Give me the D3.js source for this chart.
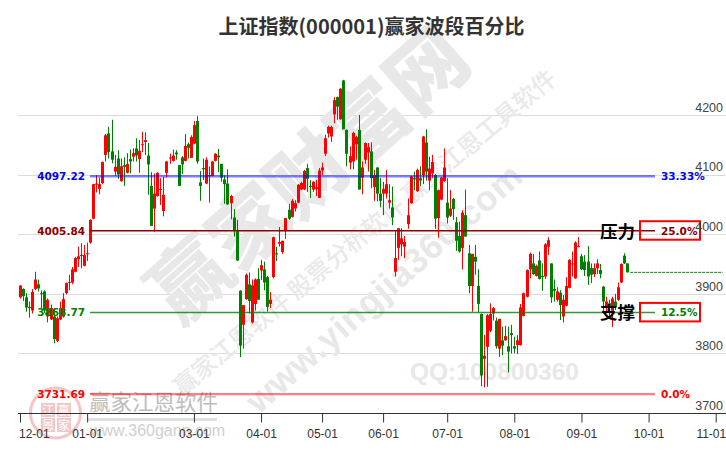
<!DOCTYPE html>
<html><head><meta charset="utf-8">
<script src="https://cdn.jsdelivr.net/npm/d3@7/dist/d3.min.js"></script>
<style>html,body{margin:0;padding:0;background:#fff}svg{display:block}</style>
</head><body><svg id="c" width="726" height="450"></svg>
<script>
const title = "上证指数(000001)赢家波段百分比";
const opens = [3894,3908,3894,3878,3872,3908,3916,3901,3904,3862,3857,3862,3821,3857,3862,3901,3919,3919,3937,3958,3964,3947,3967,3986,4026,4083,4076,4086,4133,4169,4139,4105,4127,4089,4116,4103,4126,4130,4144,4126,4150,4155,4132,4081,4043,4064,4075,4039,4103,4127,4123,4137,4116,4129,4123,4151,4128,4152,4190,4087,4111,4085,4099,4098,4123,4132,4118,4092,4085,4052,4028,4005,3905,3848,3891,3916,3852,3883,3925,3939,3941,3928,3883,3928,3968,3984,3970,4007,4041,4029,4043,4053,4075,4075,4111,4081,4075,4076,4061,4107,4135,4169,4164,4201,4230,4193,4258,4175,4120,4122,4151,4175,4095,4125,4137,4139,4079,4112,4068,4068,4068,4053,4045,3937,3977,3983,3979,4017,4052,4094,4072,4094,4099,4154,4090,4102,4099,4027,4058,4089,4053,4031,4059,4020,3997,3977,4032,3968,3913,3962,3913,3866,3791,3811,3838,3867,3855,3808,3822,3822,3812,3834,3812,3814,3814,3863,3895,3941,3951,3930,3956,3930,3929,3979,3951,3908,3890,3902,3862,3880,3910,3950,3926,3979,3963,3954,3954,3943,3933,3943,3940,3912,3878,3884,3867,3887,3890,3919,3964,3951];
const highs = [3914,3909,3901,3887,3908,3937,3924,3906,3906,3892,3882,3876,3862,3887,3901,3919,3932,3945,3962,3979,3985,3982,3986,4025,4084,4099,4095,4122,4168,4180,4192,4133,4141,4127,4129,4136,4142,4144,4161,4158,4172,4171,4153,4104,4102,4104,4094,4096,4123,4135,4142,4141,4116,4131,4168,4154,4166,4190,4198,4106,4127,4129,4114,4123,4136,4143,4118,4099,4109,4066,4042,4024,3906,3881,3934,3936,3924,3926,3943,3957,3954,3930,3903,3996,3979,4012,3989,4027,4051,4059,4057,4084,4088,4108,4118,4091,4089,4091,4111,4120,4167,4182,4182,4230,4231,4245,4259,4176,4147,4172,4165,4200,4122,4154,4153,4154,4108,4112,4094,4088,4108,4084,4080,4007,4010,4010,3997,4060,4098,4105,4110,4114,4165,4176,4130,4133,4101,4075,4096,4144,4094,4074,4061,4029,4021,4040,4075,3982,3967,3982,3941,3867,3831,3866,3884,3878,3860,3858,3845,3846,3845,3848,3828,3831,3883,3902,3941,3969,3967,3949,3971,3951,3985,3995,3951,3924,3911,3906,3898,3928,3958,3971,3988,3995,3967,3965,3980,3951,3951,3958,3950,3913,3895,3890,3895,3900,3919,3951,3968,3951];
const lows = [3892,3888,3870,3860,3867,3906,3904,3876,3868,3852,3856,3817,3819,3856,3860,3899,3906,3916,3936,3945,3943,3946,3955,3984,4025,4070,4067,4084,4122,4127,4119,4098,4093,4088,4081,4102,4102,4122,4122,4103,4138,4133,4066,4014,4004,4063,4049,4030,4095,4118,4122,4125,4081,4101,4122,4127,4128,4151,4118,4056,4091,4084,4053,4097,4122,4104,4088,4051,4049,4025,3996,3955,3794,3808,3890,3867,3850,3872,3890,3923,3906,3870,3876,3926,3955,3979,3967,3992,4024,4028,4038,4052,4074,4074,4071,4061,4071,4064,4061,4099,4131,4162,4155,4186,4192,4192,4176,4114,4109,4109,4125,4075,4067,4118,4105,4077,4056,4055,4045,4032,4060,4043,4015,3929,3957,3963,3960,4009,4051,4074,4071,4081,4084,4090,4074,4094,4009,3994,4057,4088,4018,4029,4024,3972,3969,3941,3996,3901,3870,3932,3868,3745,3743,3744,3836,3855,3808,3794,3797,3821,3768,3800,3800,3799,3813,3862,3894,3926,3932,3929,3924,3905,3925,3965,3885,3887,3887,3856,3852,3879,3909,3929,3925,3978,3940,3930,3915,3918,3928,3933,3926,3867,3867,3859,3844,3873,3888,3918,3950,3936];
const closes = [3914,3896,3877,3876,3903,3924,3909,3900,3873,3890,3876,3824,3859,3876,3891,3918,3920,3941,3960,3963,3965,3965,3968,4024,4084,4085,4084,4121,4166,4138,4125,4113,4100,4114,4113,4118,4122,4136,4132,4140,4151,4158,4117,4014,4068,4103,4076,4066,4122,4129,4132,4134,4081,4117,4148,4145,4163,4183,4122,4081,4109,4125,4098,4122,4135,4129,4095,4084,4050,4064,4007,3956,3813,3881,3932,3888,3914,3924,3890,3948,3919,3878,3890,3995,3966,3987,3989,4027,4026,4056,4052,4083,4086,4106,4093,4080,4088,4079,4107,4112,4161,4180,4180,4225,4214,4244,4176,4135,4131,4170,4163,4075,4112,4153,4146,4094,4099,4068,4056,4076,4084,4057,4028,3960,4010,3993,3987,4032,4097,4092,4108,4090,4164,4105,4110,4121,4026,4074,4095,4112,4028,4043,4042,3989,3971,4036,3996,3913,3967,3954,3883,3763,3796,3864,3866,3876,3812,3858,3813,3829,3803,3831,3808,3822,3877,3901,3940,3967,3933,3947,3925,3928,3983,3990,3894,3905,3904,3881,3890,3913,3957,3951,3986,3980,3941,3940,3929,3932,3943,3951,3933,3887,3887,3876,3892,3878,3911,3950,3951,3936];
const priceTicks = [3700,3800,3900,4000,4100,4200];
const dateTicks = [0,22,57,79,99,119,140,162,184,206,228];
const dateLabels = ["12-01","01-01","03-01","04-01","05-01","06-01","07-01","08-01","09-01","10-01","11-01"];
const waveLevels = [4097.22,4005.84,3868.77,3731.69];
const waveLabels = ["33.33%","25.0%","12.5%","0.0%"];
const waveColors = ["#0000ff","#8b0000","#008000","#ff0000"];
const waveAlpha = [0.5,1,0.8,0.5];
const waveWidth = [2.4,1.5,1.5,2.4];
const boxedLevels = [{i:1,t:"压力"},{i:2,t:"支撑"}];
const lastPrice = closes[closes.length-1];

const svg = d3.select("#c");
const x = d3.scaleLinear().domain([0,228]).range([20,715.7]);
const y = d3.scaleLinear().domain([3700,4200]).range([413,115]);
const CJK = "'Noto Sans CJK SC','Noto Sans',sans-serif";

// grid
svg.append("g").selectAll("line").data(priceTicks.slice(1)).join("line")
 .attr("x1",18).attr("x2",726).attr("y1",d=>Math.round(y(d))+.5).attr("y2",d=>Math.round(y(d))+.5)
 .attr("stroke","#dcdcdc").attr("stroke-width",1);

// watermarks
const wm = svg.append("g").attr("fill","#e8e8e8");
wm.append("text").attr("transform","translate(313,180) rotate(-41.5)").attr("text-anchor","middle").attr("dominant-baseline","middle")
 .attr("font-family",CJK).attr("font-weight",900).attr("font-size",79).text("赢家财富网");
wm.append("text").attr("transform","translate(366,234) rotate(-40)").attr("text-anchor","middle").attr("dominant-baseline","middle")
 .attr("font-family",CJK).attr("font-weight",500).attr("font-size",24).attr("fill","#e9e9e9").text("赢家江恩软件 股票分析软件 赢家江恩工具软件");
wm.append("text").attr("transform","translate(386,290) rotate(-41.5)").attr("text-anchor","middle").attr("dominant-baseline","middle")
 .attr("font-family","'Liberation Sans',sans-serif").attr("font-weight",700).attr("font-size",35).attr("letter-spacing",.8).text("www.yingjia360.com");
wm.append("text").attr("x",410).attr("y",380).attr("font-family","'Liberation Sans',sans-serif").attr("font-weight",700).attr("font-size",24.5).text("QQ:100800360");

// stamp
const st = svg.append("g").attr("opacity",.22);
st.append("circle").attr("cx",55.5).attr("cy",413).attr("r",25).attr("fill","none").attr("stroke","#c00000").attr("stroke-width",3);
[["江",48,410],["赢",64,410],["恩",48,425],["家",64,425]].forEach(d=>{
 st.append("rect").attr("x",d[1]-7).attr("y",d[2]-7).attr("width",14).attr("height",14).attr("fill","#c00000");
 st.append("text").attr("x",d[1]).attr("y",d[2]+4.5).attr("text-anchor","middle").attr("font-size",12).attr("font-family",CJK).attr("fill","#fff").text(d[0]);
});
svg.append("text").attr("x",89).attr("y",410).attr("font-family",CJK).attr("font-size",21.5).attr("fill","#bdbdbd").text("赢家江恩软件");
svg.append("rect").attr("x",88).attr("y",418).attr("width",129).attr("height",3).attr("fill","#e0e0e0");
svg.append("text").attr("x",90).attr("y",436).attr("font-family","'Liberation Sans',sans-serif").attr("font-size",16).attr("fill","#cfcfcf").text("www.360gann.com");

// candles
const idx = d3.range(closes.length);
const col = i => closes[i]>=opens[i] ? "#ff0000" : "#008000";
const cx = i => Math.round(x(i));
svg.append("g").selectAll("line").data(idx).join("line")
 .attr("x1",i=>cx(i)+.5).attr("x2",i=>cx(i)+.5).attr("y1",i=>y(highs[i])).attr("y2",i=>y(lows[i]))
 .attr("stroke",col).attr("stroke-width",1);
svg.append("g").selectAll("rect").data(idx).join("rect")
 .attr("x",i=>cx(i)-1).attr("width",3)
 .attr("y",i=>y(Math.max(opens[i],closes[i])))
 .attr("height",i=>Math.max(1,Math.abs(y(opens[i])-y(closes[i]))))
 .attr("fill",col);

// last price dashed
svg.append("line").attr("x1",x(closes.length-1)+3).attr("x2",x(228)+7).attr("y1",y(lastPrice)).attr("y2",y(lastPrice))
 .attr("stroke","#008000").attr("stroke-width",1).attr("stroke-dasharray","3 1");

// wave lines
svg.append("g").selectAll("line").data(waveLevels).join("line")
 .attr("x1",90).attr("x2",655).attr("y1",d=>y(d)).attr("y2",d=>y(d))
 .attr("stroke",(d,i)=>waveColors[i]).attr("stroke-opacity",(d,i)=>waveAlpha[i]).attr("stroke-width",(d,i)=>waveWidth[i]);
const VF="'DejaVu Sans',sans-serif";
svg.append("g").selectAll("text").data(waveLevels).join("text")
 .attr("x",85).attr("y",d=>y(d)+4).attr("text-anchor","end").attr("font-family",VF).attr("font-weight",700).attr("font-size",10.5)
 .attr("fill",(d,i)=>waveColors[i]).text(d=>d.toFixed(2));
svg.append("g").selectAll("text").data(waveLabels).join("text")
 .attr("x",661).attr("y",(d,i)=>y(waveLevels[i])+4).attr("font-family",VF).attr("font-weight",700).attr("font-size",10.5)
 .attr("fill",(d,i)=>waveColors[i]).text(d=>d);
boxedLevels.forEach(b=>{
 const yy=y(waveLevels[b.i]);
 svg.append("rect").attr("x",640).attr("y",yy-9.5).attr("width",60).attr("height",18.5).attr("fill","none").attr("stroke","#ff0000").attr("stroke-width",2);
 svg.append("text").attr("x",600).attr("y",yy+7).attr("font-family",CJK).attr("font-weight",700).attr("font-size",17.5).attr("fill","#000").text(b.t);
});

// axes
const ax = svg.append("g").attr("transform","translate(0,413.5)")
 .call(d3.axisBottom(x).tickValues(dateTicks).tickFormat((d,i)=>dateLabels[i]).tickSize(9).tickPadding(7));
ax.select(".domain").attr("d","M18,0H726").attr("stroke","#333");
ax.selectAll(".tick line").attr("stroke","#333");
ax.selectAll("text").attr("font-family","'Liberation Sans',sans-serif").attr("font-size",12).attr("fill","#333")
 .attr("text-anchor",(d,i)=>i===0?"start":i===dateTicks.length-1?"end":"middle")
 .attr("dx",(d,i)=>i===0?-1.5:i===dateTicks.length-1?10:0);
const ay = svg.append("g").attr("transform","translate(723,0)")
 .call(d3.axisLeft(y).tickValues(priceTicks).tickFormat(d3.format("d")).tickSize(0).tickPadding(0));
ay.select(".domain").remove();
ay.selectAll("text").attr("font-family","'Liberation Sans',sans-serif").attr("font-size",12.5).attr("fill","#444").attr("dy","-0.3em");

svg.append("text").attr("x",371.5).attr("y",34).attr("text-anchor","middle").attr("font-family",CJK).attr("font-weight",700).attr("font-size",20).attr("fill","#333").text(title);
</script></body></html>
